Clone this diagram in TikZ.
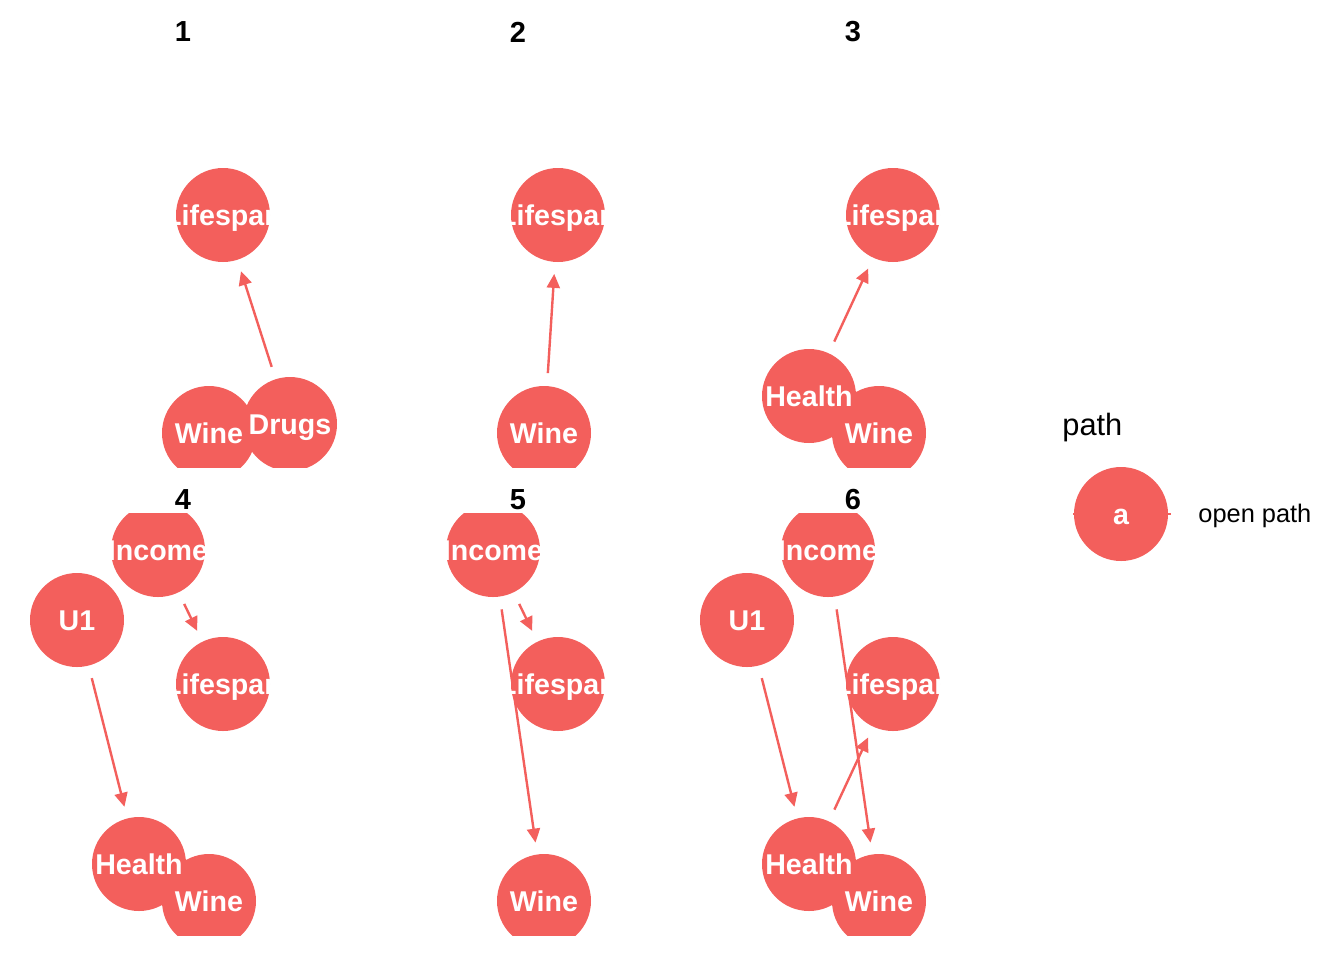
\documentclass[tikz,border=0pt]{standalone}
\usepackage{fontspec}
\setmainfont{Liberation Sans}
\usetikzlibrary{arrows.meta}
\definecolor{pathred}{HTML}{F35F5C}
\tikzset{
  dagnode/.style={circle, fill=pathred, minimum size=47pt, inner sep=0pt, outer sep=0pt},
  dagtext/.style={text=white, font=\fontsize{14.3}{16}\selectfont\bfseries,
    inner sep=0pt, anchor=base, yshift=-5pt},
  dagedge/.style={draw=pathred, line width=1.2pt,
    -{Triangle[length=7pt,width=6.5pt]}, shorten <=6.5pt, shorten >=6pt},
  paneltitle/.style={font=\fontsize{14.5}{16}\selectfont\bfseries, inner sep=0pt},
}
\begin{document}
\begin{tikzpicture}[x=0.5pt, y=-0.5pt]
\useasboundingbox (0,0) rectangle (1344,960);

% panel titles
\node[paneltitle] (t1) at (183,32) {1};
\node[paneltitle] (t2) at (518,32) {2};
\node[paneltitle] (t3) at (853,32) {3};
\node[paneltitle] (t4) at (183,500) {4};
\node[paneltitle] (t5) at (518,500) {5};
\node[paneltitle] (t6) at (853,500) {6};

% ---------- panel 1 ----------
\begin{scope}
\clip (16,50) rectangle (350,467);
\node[dagnode] (p1L) at (223,215) {};
\node[dagnode] (p1W) at (209,433) {};
\node[dagnode] (p1D) at (290,424) {};
\draw[dagedge] (p1D) -- (p1L);
\node[dagtext] at (p1L) {Lifespan};
\node[dagtext] at (p1W) {Wine};
\node[dagtext] at (p1D) {Drugs};
\end{scope}

% ---------- panel 2 ----------
\begin{scope}
\clip (351,50) rectangle (685,467);
\node[dagnode] (p2L) at (558,215) {};
\node[dagnode] (p2W) at (544,433) {};
\draw[dagedge] (p2W) -- (p2L);
\node[dagtext] at (p2L) {Lifespan};
\node[dagtext] at (p2W) {Wine};
\end{scope}

% ---------- panel 3 ----------
\begin{scope}
\clip (686,50) rectangle (1020,467);
\node[dagnode] (p3L) at (893,215) {};
\node[dagnode] (p3H) at (809,396) {};
\node[dagnode] (p3W) at (879,433) {};
\draw[dagedge] (p3H) -- (p3L);
\node[dagtext] at (p3L) {Lifespan};
\node[dagtext] at (p3H) {Health};
\node[dagtext] at (p3W) {Wine};
\end{scope}

% ---------- panel 4 ----------
\begin{scope}
\clip (16,513) rectangle (350,935);
\node[dagnode] (p4I) at (158,550) {};
\node[dagnode] (p4U) at (77,620) {};
\node[dagnode] (p4L) at (223,684) {};
\node[dagnode] (p4H) at (139,864) {};
\node[dagnode] (p4W) at (209,901) {};
\draw[dagedge] (p4I) -- (p4L);
\draw[dagedge] (p4U) -- (p4H);
\node[dagtext] at (p4I) {Income};
\node[dagtext] at (p4U) {U1};
\node[dagtext] at (p4L) {Lifespan};
\node[dagtext] at (p4H) {Health};
\node[dagtext] at (p4W) {Wine};
\end{scope}

% ---------- panel 5 ----------
\begin{scope}
\clip (351,513) rectangle (685,935);
\node[dagnode] (p5I) at (493,550) {};
\node[dagnode] (p5L) at (558,684) {};
\node[dagnode] (p5W) at (544,901) {};
\draw[dagedge] (p5I) -- (p5L);
\draw[dagedge] (p5I) -- (p5W);
\node[dagtext] at (p5I) {Income};
\node[dagtext] at (p5L) {Lifespan};
\node[dagtext] at (p5W) {Wine};
\end{scope}

% ---------- panel 6 ----------
\begin{scope}
\clip (686,513) rectangle (1020,935);
\node[dagnode] (p6I) at (828,550) {};
\node[dagnode] (p6U) at (747,620) {};
\node[dagnode] (p6L) at (893,684) {};
\node[dagnode] (p6H) at (809,864) {};
\node[dagnode] (p6W) at (879,901) {};
\draw[dagedge] (p6I) -- (p6W);
\draw[dagedge] (p6U) -- (p6H);
\draw[dagedge] (p6H) -- (p6L);
\node[dagtext] at (p6I) {Income};
\node[dagtext] at (p6U) {U1};
\node[dagtext] at (p6L) {Lifespan};
\node[dagtext] at (p6H) {Health};
\node[dagtext] at (p6W) {Wine};
\end{scope}

% ---------- legend ----------
\node[anchor=base west, inner sep=0pt, font=\fontsize{15.4}{17}\selectfont] (legtitle) at (1062,435) {path};
\coordinate (keyL) at (1073,514);
\coordinate (keyR) at (1171,514);
\draw[draw=pathred, line width=1.2pt] (keyL) -- (keyR);
\node[dagnode] (key) at (1121,514) {};
\node[dagtext] at (key) {a};
\node[anchor=base west, inner sep=0pt, font=\fontsize{12.7}{15}\selectfont] (keylabel) at (1198,522) {open path};
\end{tikzpicture}
\end{document}
